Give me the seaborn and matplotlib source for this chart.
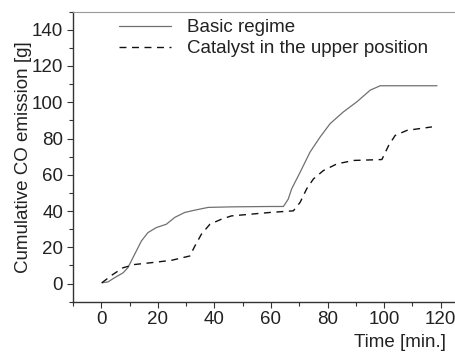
import numpy as np
import pandas as pd
import matplotlib
matplotlib.use("Agg")
import matplotlib.pyplot as plt
import seaborn as sns
from matplotlib.ticker import MultipleLocator

sns.set_theme(style="ticks")
plt.rcParams['font.family'] = ['Liberation Sans', 'DejaVu Sans']

basic_t = [0.2, 2.4, 4.7, 7.7, 9.4, 11.8, 14.2, 16.5, 19.5, 23, 26, 29.5, 33.1, 37.8, 46, 59.6,
           64.4, 66.1, 67.3, 70.3, 73.8, 77.4, 80.9, 85.6, 90.4, 95.1, 98.6, 118.7]
basic_y = [0.4, 0.9, 3.2, 5.9, 8.7, 16.1, 23.5, 28.1, 30.9, 32.7, 36.5, 39.2, 40.5, 42, 42.3, 42.5,
           42.5, 46.6, 52.2, 61.4, 72.5, 80.9, 88.2, 94.7, 100.3, 106.7, 109.1, 109.1]

cat_t = [0.2, 4.1, 7.7, 11.8, 17.7, 24.8, 31.3, 33.1, 35.4, 38.4, 42.5, 46, 59.6,
         67.9, 70.3, 72.6, 75, 78.5, 83.3, 89.2, 99.2, 101.6, 103.9, 108.1, 116.9]
cat_y = [0.4, 5, 8.7, 10.5, 11.5, 12.8, 15.2, 20.7, 27.2, 32.7, 35.5, 37.3, 39.2,
         40.1, 44.8, 52.2, 57.7, 62.3, 66, 67.9, 68.4, 76.2, 81.7, 84.5, 86.4]

labels = ["Basic regime", "Catalyst in the upper position"]
x_ticks = [0, 20, 40, 60, 80, 100, 120]
y_ticks = [0, 20, 40, 60, 80, 100, 120, 140]

FS = 13.5

fig = plt.figure(figsize=(4.56, 3.52), dpi=100)
ax = fig.add_axes([0.160, 0.143, 0.840, 0.824])

df1 = pd.DataFrame({"t": basic_t, "y": basic_y})
df2 = pd.DataFrame({"t": cat_t, "y": cat_y})
sns.lineplot(data=df1, x="t", y="y", ax=ax, color="#707070", lw=0.9, label=labels[0])
sns.lineplot(data=df2, x="t", y="y", ax=ax, color="#111111", lw=1.0, label=labels[1])
ax.lines[1].set_dashes([5, 4])

ax.set_xlim(-10, 125.4)
ax.set_ylim(-10, 150)
ax.set_xticks(x_ticks)
ax.set_yticks(y_ticks)
ax.xaxis.set_minor_locator(MultipleLocator(10))
ax.yaxis.set_minor_locator(MultipleLocator(10))
ax.tick_params(which="major", direction="out", length=4.5, width=0.8, color="#333333",
               labelsize=FS, labelcolor="#222222", pad=2.5)
ax.tick_params(which="minor", direction="out", length=3, width=0.8, color="#333333")

for s in ["left", "bottom"]:
    ax.spines[s].set_color("#333333")
    ax.spines[s].set_linewidth(1.0)
ax.spines["top"].set_visible(True)
ax.spines["top"].set_color("#999999")
ax.spines["top"].set_linewidth(0.8)
ax.spines["right"].set_visible(False)

ax.set_xlabel("")
ax.set_ylabel("Cumulative CO emission [g]", fontsize=FS, color="#222222", labelpad=0)
fig.text(0.978, 0.004, "Time [min.]", ha="right", va="bottom", fontsize=FS, color="#222222")

leg = ax.legend(loc="upper left", bbox_to_anchor=(0.100, 1.0), frameon=False, fontsize=FS,
                handlelength=2.8, handletextpad=0.85, labelspacing=0.2, borderaxespad=0)
for t in leg.get_texts():
    t.set_color("#222222")

fig.savefig("out.png", dpi=100)
